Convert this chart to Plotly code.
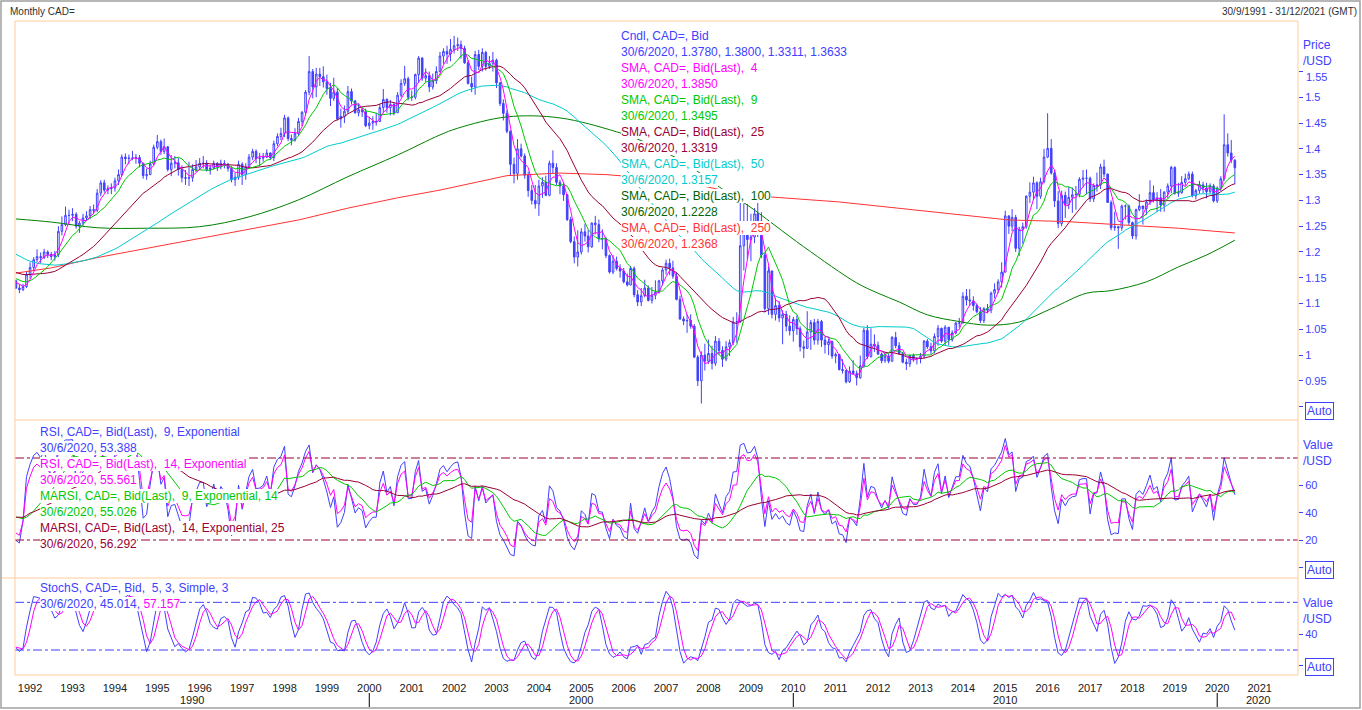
import numpy as np
import pandas as pd
import plotly.graph_objects as go
from plotly.subplots import make_subplots

# ---- data -------------------------------------------------------------
# monthly closes Aug 1987 - Aug 1991 (before the window, only warms up the indicators)
pre_close = [
    1.3200, 1.3130, 1.3170, 1.3080, 1.3000,
    1.2680, 1.2520, 1.2380, 1.2310, 1.2320, 1.2100, 1.2120, 1.2290, 1.2140, 1.2040, 1.2270, 1.1920,
    1.1880, 1.1920, 1.1900, 1.1880, 1.1990, 1.1980, 1.1750, 1.1790, 1.1800, 1.1740, 1.1640, 1.1590,
    1.1890, 1.1920, 1.1700, 1.1650, 1.1730, 1.1640, 1.1480, 1.1480, 1.1570, 1.1630, 1.1620, 1.1600,
    1.1580, 1.1540, 1.1580, 1.1520, 1.1480, 1.1420, 1.1480, 1.1440,
]
# highs / lows Jan - Aug 1991
pre_high = [1.1640, 1.1620, 1.1660, 1.1610, 1.1560, 1.1500, 1.1530, 1.1530]
pre_low = [1.1490, 1.1480, 1.1450, 1.1480, 1.1440, 1.1380, 1.1400, 1.1400]

# monthly bars Sep 1991 - Jun 2020 (open = previous close)
close = [
    1.1300, 1.1270, 1.1330, 1.1560,
    1.1700, 1.1850, 1.1910, 1.1890, 1.2000, 1.1950, 1.1910, 1.1950, 1.2400, 1.2530, 1.2710, 1.2710,
    1.2730, 1.2500, 1.2560, 1.2660, 1.2700, 1.2820, 1.2810, 1.3140, 1.3340, 1.3200, 1.3230, 1.3240,
    1.3380, 1.3500, 1.3840, 1.3810, 1.3820, 1.3820, 1.3830, 1.3720, 1.3480, 1.3500, 1.3710, 1.4030,
    1.4140, 1.3950, 1.4040, 1.3600, 1.3720, 1.3730, 1.3600, 1.3440, 1.3430, 1.3440, 1.3600, 1.3650,
    1.3720, 1.3720, 1.3600, 1.3630, 1.3720, 1.3650, 1.3720, 1.3700, 1.3620, 1.3400, 1.3450, 1.3700,
    1.3500, 1.3650, 1.3840, 1.3950, 1.3810, 1.3820, 1.3840, 1.3920, 1.3830, 1.4100, 1.4240, 1.4300,
    1.4600, 1.4200, 1.4170, 1.4300, 1.4530, 1.4710, 1.5100, 1.5500, 1.5200, 1.5450, 1.5400, 1.5300,
    1.5170, 1.4980, 1.5100, 1.4580, 1.4630, 1.4730, 1.5110, 1.4930, 1.4700, 1.4760, 1.4720, 1.4450,
    1.4500, 1.4530, 1.4530, 1.4800, 1.4960, 1.4800, 1.4860, 1.4700, 1.5040, 1.5270, 1.5360, 1.5000,
    1.5000, 1.5440, 1.5760, 1.5370, 1.5420, 1.5200, 1.5320, 1.5500, 1.5800, 1.5890, 1.5840, 1.5930,
    1.6000, 1.6020, 1.5950, 1.5670, 1.5270, 1.5200, 1.5830, 1.5600, 1.5870, 1.5600, 1.5660, 1.5720,
    1.5280, 1.4880, 1.4690, 1.4340, 1.3700, 1.3520, 1.4000, 1.3860, 1.3490, 1.3190, 1.3000, 1.2930,
    1.3280, 1.3350, 1.3100, 1.3720, 1.3640, 1.3350, 1.3280, 1.3110, 1.2630, 1.2200, 1.1900, 1.2000,
    1.2390, 1.2310, 1.2100, 1.2560, 1.2530, 1.2260, 1.2250, 1.1930, 1.1610, 1.1820, 1.1680, 1.1630,
    1.1420, 1.1360, 1.1680, 1.1170, 1.1030, 1.1150, 1.1300, 1.1060, 1.1160, 1.1220, 1.1440, 1.1650,
    1.1780, 1.1690, 1.1530, 1.1080, 1.0700, 1.0660, 1.0670, 1.0560, 0.9960, 0.9500, 1.0000, 0.9880,
    1.0030, 0.9840, 1.0270, 1.0090, 0.9920, 1.0160, 1.0240, 1.0640, 1.0650, 1.2120, 1.2380, 1.2240,
    1.2290, 1.2740, 1.2600, 1.1940, 1.0900, 1.1630, 1.0790, 1.0960, 1.0720, 1.0790, 1.0560, 1.0470,
    1.0690, 1.0510, 1.0160, 1.0130, 1.0450, 1.0630, 1.0290, 1.0650, 1.0290, 1.0200, 1.0260, 0.9980,
    1.0010, 0.9720, 0.9700, 0.9480, 0.9690, 0.9640, 0.9560, 0.9790, 1.0480, 0.9970, 1.0210, 1.0190,
    1.0020, 0.9890, 0.9980, 0.9880, 1.0340, 1.0180, 1.0030, 0.9860, 0.9830, 0.9990, 0.9930, 0.9930,
    0.9980, 1.0270, 1.0160, 1.0080, 1.0360, 1.0520, 1.0270, 1.0540, 1.0300, 1.0430, 1.0620, 1.0620,
    1.1140, 1.1070, 1.1050, 1.0960, 1.0840, 1.0670, 1.0900, 1.0870, 1.1200, 1.1270, 1.1420, 1.1610,
    1.2700, 1.2500, 1.2670, 1.2070, 1.2440, 1.2490, 1.3080, 1.3160, 1.3340, 1.3080, 1.3360, 1.3840,
    1.4010, 1.3530, 1.2990, 1.2550, 1.3100, 1.2920, 1.3060, 1.3110, 1.3120, 1.3410, 1.3430, 1.3430,
    1.3030, 1.3290, 1.3300, 1.3650, 1.3510, 1.2960, 1.2470, 1.2490, 1.2470, 1.2890, 1.2890, 1.2570,
    1.2310, 1.2820, 1.2890, 1.2840, 1.2970, 1.3150, 1.3010, 1.3050, 1.2910, 1.3160, 1.3280, 1.3640,
    1.3140, 1.3150, 1.3350, 1.3420, 1.3510, 1.3090, 1.3190, 1.3300, 1.3240, 1.3170, 1.3280, 1.2990,
    1.3240, 1.3420, 1.4080, 1.3920, 1.3780, 1.3633,
]
high = [
    1.1460, 1.1370, 1.1380, 1.1620,
    1.1800, 1.1900, 1.2050, 1.1990, 1.2060, 1.2030, 1.2000, 1.2020, 1.2500, 1.2690, 1.2880, 1.2820,
    1.2850, 1.2770, 1.2600, 1.2740, 1.2790, 1.2890, 1.2920, 1.3220, 1.3390, 1.3400, 1.3290, 1.3330,
    1.3440, 1.3600, 1.3890, 1.3910, 1.3890, 1.3960, 1.3900, 1.3880, 1.3730, 1.3620, 1.3770, 1.4080,
    1.4270, 1.4180, 1.4200, 1.4050, 1.3880, 1.3860, 1.3820, 1.3680, 1.3590, 1.3750, 1.3700, 1.3780,
    1.3820, 1.3860, 1.3780, 1.3690, 1.3770, 1.3740, 1.3790, 1.3780, 1.3730, 1.3660, 1.3530, 1.3770,
    1.3740, 1.3720, 1.3900, 1.4000, 1.3990, 1.3920, 1.3920, 1.3990, 1.3930, 1.4160, 1.4300, 1.4410,
    1.4660, 1.4630, 1.4280, 1.4400, 1.4600, 1.4730, 1.5140, 1.5800, 1.5550, 1.5570, 1.5570, 1.5600,
    1.5440, 1.5280, 1.5380, 1.5180, 1.4780, 1.4840, 1.5220, 1.5170, 1.4950, 1.4880, 1.4800, 1.4780,
    1.4620, 1.4630, 1.4700, 1.4870, 1.5160, 1.4980, 1.4950, 1.4900, 1.5100, 1.5350, 1.5610, 1.5400,
    1.5130, 1.5460, 1.5800, 1.5780, 1.5560, 1.5500, 1.5460, 1.5600, 1.5880, 1.5950, 1.6000, 1.6130,
    1.6190, 1.6160, 1.6100, 1.6000, 1.5720, 1.5400, 1.5900, 1.5920, 1.5950, 1.5900, 1.5800, 1.5880,
    1.5750, 1.5290, 1.4960, 1.4750, 1.4360, 1.3830, 1.4190, 1.4100, 1.3910, 1.3560, 1.3300, 1.3300,
    1.3400, 1.3450, 1.3480, 1.3770, 1.3970, 1.3720, 1.3400, 1.3350, 1.3120, 1.2680, 1.2300, 1.2420,
    1.2460, 1.2550, 1.2430, 1.2570, 1.2700, 1.2630, 1.2440, 1.2290, 1.1950, 1.1940, 1.1910, 1.1760,
    1.1690, 1.1580, 1.1730, 1.1720, 1.1260, 1.1300, 1.1460, 1.1350, 1.1320, 1.1450, 1.1460, 1.1690,
    1.1850, 1.1870, 1.1830, 1.1600, 1.1150, 1.0750, 1.0790, 1.0790, 1.0600, 1.0000, 1.0070, 1.0220,
    1.0300, 1.0180, 1.0370, 1.0330, 1.0170, 1.0270, 1.0300, 1.0740, 1.0830, 1.2990, 1.2940, 1.2930,
    1.2740, 1.2850, 1.3060, 1.2770, 1.1980, 1.1720, 1.1640, 1.1110, 1.1050, 1.0870, 1.0860, 1.0770,
    1.0740, 1.0770, 1.0560, 1.0280, 1.0850, 1.0680, 1.0700, 1.0700, 1.0680, 1.0350, 1.0320, 1.0280,
    1.0050, 1.0020, 0.9920, 0.9720, 0.9780, 0.9900, 0.9700, 0.9990, 1.0530, 1.0580, 1.0520, 1.0400,
    1.0260, 1.0050, 1.0050, 1.0030, 1.0370, 1.0450, 1.0250, 1.0060, 0.9930, 1.0010, 1.0030, 0.9960,
    1.0040, 1.0290, 1.0310, 1.0240, 1.0420, 1.0580, 1.0530, 1.0580, 1.0540, 1.0480, 1.0640, 1.0720,
    1.1220, 1.1280, 1.1280, 1.1140, 1.1000, 1.0930, 1.0930, 1.0990, 1.1230, 1.1390, 1.1470, 1.1800,
    1.2800, 1.2700, 1.2830, 1.2720, 1.2490, 1.2570, 1.3100, 1.3350, 1.3460, 1.3370, 1.3440, 1.4000,
    1.4690, 1.4190, 1.3580, 1.3180, 1.3190, 1.3170, 1.3260, 1.3250, 1.3280, 1.3450, 1.3590, 1.3600,
    1.3460, 1.3330, 1.3540, 1.3710, 1.3790, 1.3520, 1.3000, 1.2780, 1.2500, 1.2920, 1.2920, 1.2920,
    1.2590, 1.2840, 1.3120, 1.2900, 1.3020, 1.3390, 1.3290, 1.3160, 1.3220, 1.3180, 1.3330, 1.3670,
    1.3660, 1.3340, 1.3470, 1.3520, 1.3560, 1.3560, 1.3220, 1.3380, 1.3360, 1.3340, 1.3330, 1.3320,
    1.3270, 1.3470, 1.4670, 1.4300, 1.4170, 1.3800,
]
low = [
    1.1280, 1.1200, 1.1240, 1.1300,
    1.1480, 1.1650, 1.1800, 1.1780, 1.1860, 1.1880, 1.1840, 1.1830, 1.1900, 1.2320, 1.2500, 1.2550,
    1.2600, 1.2450, 1.2370, 1.2510, 1.2600, 1.2640, 1.2740, 1.2770, 1.3080, 1.3150, 1.3120, 1.3120,
    1.3170, 1.3300, 1.3470, 1.3700, 1.3700, 1.3780, 1.3710, 1.3640, 1.3420, 1.3400, 1.3490, 1.3680,
    1.3990, 1.3880, 1.3900, 1.3560, 1.3470, 1.3620, 1.3480, 1.3350, 1.3300, 1.3280, 1.3360, 1.3550,
    1.3590, 1.3620, 1.3560, 1.3500, 1.3600, 1.3570, 1.3600, 1.3620, 1.3560, 1.3350, 1.3280, 1.3400,
    1.3300, 1.3400, 1.3630, 1.3780, 1.3720, 1.3670, 1.3750, 1.3820, 1.3790, 1.3760, 1.4050, 1.4170,
    1.4230, 1.4150, 1.4070, 1.4140, 1.4250, 1.4440, 1.4650, 1.5040, 1.4980, 1.5000, 1.5220, 1.5190,
    1.5050, 1.4830, 1.4930, 1.4550, 1.4410, 1.4500, 1.4680, 1.4860, 1.4680, 1.4630, 1.4620, 1.4420,
    1.4380, 1.4370, 1.4450, 1.4520, 1.4700, 1.4700, 1.4650, 1.4650, 1.4700, 1.5000, 1.5220, 1.4940,
    1.4930, 1.4960, 1.5280, 1.5320, 1.5300, 1.5100, 1.5150, 1.5260, 1.5480, 1.5650, 1.5650, 1.5700,
    1.5850, 1.5900, 1.5750, 1.5650, 1.5250, 1.5100, 1.5050, 1.5530, 1.5500, 1.5520, 1.5550, 1.5500,
    1.5180, 1.4830, 1.4550, 1.4300, 1.3490, 1.3330, 1.3400, 1.3830, 1.3420, 1.3070, 1.2920, 1.2840,
    1.2700, 1.3050, 1.3080, 1.3080, 1.3520, 1.3300, 1.3120, 1.2990, 1.2600, 1.2170, 1.1780, 1.1720,
    1.1950, 1.2200, 1.1990, 1.2080, 1.2340, 1.2190, 1.2050, 1.1880, 1.1580, 1.1570, 1.1640, 1.1500,
    1.1390, 1.1330, 1.1350, 1.1120, 1.0950, 1.0950, 1.1120, 1.1040, 1.1000, 1.1080, 1.1190, 1.1350,
    1.1560, 1.1550, 1.1480, 1.1060, 1.0680, 1.0580, 1.0430, 1.0510, 0.9940, 0.9400, 0.9060, 0.9700,
    0.9830, 0.9720, 0.9790, 1.0000, 0.9770, 0.9880, 0.9980, 1.0190, 1.0240, 1.0620, 1.1640, 1.1850,
    1.1820, 1.2170, 1.2290, 1.1880, 1.0830, 1.0780, 1.0710, 1.0670, 1.0640, 1.0210, 1.0460, 1.0380,
    1.0260, 1.0390, 1.0070, 0.9940, 1.0120, 1.0100, 1.0200, 1.0200, 1.0160, 1.0030, 1.0000, 0.9930,
    0.9840, 0.9700, 0.9640, 0.9450, 0.9460, 0.9620, 0.9410, 0.9540, 0.9750, 0.9920, 0.9950, 1.0060,
    1.0000, 0.9840, 0.9850, 0.9840, 0.9880, 1.0130, 1.0000, 0.9840, 0.9710, 0.9770, 0.9870, 0.9820,
    0.9840, 0.9930, 1.0120, 1.0020, 1.0030, 1.0180, 1.0240, 1.0180, 1.0190, 1.0260, 1.0400, 1.0530,
    1.0620, 1.0960, 1.0950, 1.0860, 1.0810, 1.0620, 1.0620, 1.0810, 1.0810, 1.1100, 1.1200, 1.1310,
    1.1600, 1.2350, 1.2400, 1.2000, 1.1920, 1.2160, 1.2450, 1.2950, 1.3010, 1.2830, 1.3030, 1.3330,
    1.3820, 1.3500, 1.2870, 1.2460, 1.2500, 1.2660, 1.2830, 1.2760, 1.2820, 1.3060, 1.3270, 1.3120,
    1.2970, 1.2970, 1.3170, 1.3220, 1.3450, 1.2960, 1.2420, 1.2410, 1.2060, 1.2410, 1.2630, 1.2520,
    1.2250, 1.2240, 1.2790, 1.2530, 1.2720, 1.2910, 1.2960, 1.2780, 1.2780, 1.2780, 1.3040, 1.3140,
    1.3110, 1.3070, 1.3130, 1.3280, 1.3390, 1.3060, 1.3020, 1.3130, 1.3140, 1.3040, 1.3140, 1.2960,
    1.2950, 1.3180, 1.3380, 1.3850, 1.3720, 1.3311,
]

# long averages (their history reaches back before 1987)
sma100_dates = ["1991-09-01", "1992-07-01", "1993-08-01", "1994-10-01", "1996-01-01",
                "1997-03-01", "1998-05-01", "1999-07-01", "2000-09-01", "2001-09-01",
                "2002-02-01", "2003-04-01", "2004-07-01", "2005-11-01", "2006-06-01",
                "2007-06-01", "2008-06-01", "2008-12-01", "2010-04-01", "2011-07-01",
                "2012-01-01", "2012-07-01", "2013-03-01", "2013-12-01", "2014-08-01",
                "2015-05-01", "2016-02-01", "2016-12-01", "2017-07-01", "2018-05-01",
                "2019-02-01", "2019-10-01", "2020-06-01"]
sma100_vals = [1.264, 1.258, 1.247, 1.246, 1.249, 1.268, 1.301, 1.346, 1.388, 1.427,
               1.440, 1.462, 1.460, 1.433, 1.416, 1.374, 1.317, 1.291, 1.210, 1.140,
               1.120, 1.103, 1.078, 1.065, 1.058, 1.064, 1.090, 1.120, 1.125, 1.142,
               1.171, 1.194, 1.2228]
sma250_dates = ["1991-09-01", "1992-07-01", "1993-08-01", "1994-10-01", "1996-01-01",
                "1997-03-01", "1998-05-01", "1999-07-01", "2000-09-01", "2001-09-01",
                "2002-06-01", "2003-04-01", "2004-07-01", "2005-08-01", "2006-09-01",
                "2007-09-01", "2008-06-01", "2009-06-01", "2011-02-01", "2012-07-01",
                "2013-09-01", "2015-02-01", "2016-06-01", "2018-01-01", "2019-02-01",
                "2020-06-01"]
sma250_vals = [1.159, 1.169, 1.189, 1.207, 1.225, 1.243, 1.262, 1.285, 1.305, 1.320,
               1.333, 1.348, 1.353, 1.350, 1.343, 1.332, 1.318, 1.307, 1.297, 1.285,
               1.275, 1.262, 1.259, 1.252, 1.246, 1.2368]

years = list(range(1992, 2022))
decades = [1990, 2000, 2010, 2020]
price_ticks = [0.90, 0.95, 1.00, 1.05, 1.10, 1.15, 1.20, 1.25, 1.30, 1.35, 1.40, 1.45, 1.50, 1.55]

# ---- indicators --------------------------------------------------------
months = pd.date_range("1987-08-01", periods=len(pre_close) + len(close), freq="MS")
c = pd.Series(pre_close + close, index=months)
pad = [np.nan] * (len(pre_close) - len(pre_high))
h = pd.Series(pad + pre_high + high, index=months)
l = pd.Series(pad + pre_low + low, index=months)
o = c.shift(1)
k0 = len(pre_close)
x = months[k0:]


def rsi(s, n):
    # exponential RSI: gains and losses smoothed with an n-period EMA
    d = s.diff()
    up = d.clip(lower=0).ewm(span=n, adjust=False).mean()
    dn = (-d.clip(upper=0)).ewm(span=n, adjust=False).mean()
    return 100 - 100 / (1 + up / dn)


sma = {n: c.rolling(n).mean()[k0:] for n in (4, 9, 25, 50)}
rsi9 = rsi(c, 9)
rsi14 = rsi(c, 14)
marsi9 = rsi9.rolling(14).mean()[k0:]
marsi14 = rsi14.rolling(25).mean()[k0:]
rsi9, rsi14 = rsi9[k0:], rsi14[k0:]
fast_k = 100 * (c - l.rolling(5).min()) / (h.rolling(5).max() - l.rolling(5).min())
slow_k = fast_k.rolling(3).mean()
slow_d = slow_k.rolling(3).mean()
slow_k, slow_d = slow_k[k0:], slow_d[k0:]

# ---- figure ------------------------------------------------------------
BLUE, MAG, GRN, MAROON = "#4040FF", "#FF00FF", "#00C800", "#990033"
CYAN, DKGRN, RED, ORANGE = "#00CCCC", "#008000", "#FF3333", "#FFCC99"
FONT = "Liberation Sans, Arial, sans-serif"
W, H = 1362, 710
ML, MR, MT, MB = 15, 64, 21, 35
PW, PH = W - ML - MR, H - MT - MB


def px(xp):
    return (xp - ML) / PW


def py(yp):
    return (H - MB - yp) / PH


fig = make_subplots(rows=3, cols=1, shared_xaxes=True, vertical_spacing=0,
                    row_heights=[399, 158, 97])

fig.add_trace(go.Candlestick(
    x=x, open=o[k0:], high=h[k0:], low=l[k0:], close=c[k0:],
    increasing=dict(line=dict(color=BLUE, width=1), fillcolor="white"),
    decreasing=dict(line=dict(color=BLUE, width=1), fillcolor=BLUE),
    whiskerwidth=0, hoverinfo="skip"), row=1, col=1)

fig.add_trace(go.Scatter(x=pd.to_datetime(sma250_dates), y=sma250_vals, mode="lines",
                         line=dict(color=RED, width=1)), row=1, col=1)
fig.add_trace(go.Scatter(x=pd.to_datetime(sma100_dates), y=sma100_vals, mode="lines",
                         line=dict(color=DKGRN, width=1, shape="spline")), row=1, col=1)
for n, col in [(50, CYAN), (25, MAROON), (9, GRN), (4, MAG)]:
    fig.add_trace(go.Scatter(x=x, y=sma[n], mode="lines", line=dict(color=col, width=1)),
                  row=1, col=1)

for s, col in [(rsi9, BLUE), (rsi14, MAG), (marsi9, GRN), (marsi14, MAROON)]:
    fig.add_trace(go.Scatter(x=x, y=s, mode="lines", line=dict(color=col, width=1)),
                  row=2, col=1)
for s, col in [(slow_k, BLUE), (slow_d, MAG)]:
    fig.add_trace(go.Scatter(x=x, y=s, mode="lines", line=dict(color=col, width=1)),
                  row=3, col=1)

for yv in (20, 80):
    fig.add_hline(y=yv, line=dict(color=MAROON, width=1, dash="dashdot"), row=2, col=1)
    fig.add_hline(y=yv, line=dict(color=BLUE, width=1, dash="dashdot"), row=3, col=1)

# last-value diamonds in the axis gutter
tag_x = pd.Timestamp("2022-01-12")
tags = [
    (1, [sma[4].iloc[-1], c.iloc[-1], sma[9].iloc[-1], sma[25].iloc[-1], sma[50].iloc[-1],
         sma250_vals[-1], sma100_vals[-1]], [MAG, BLUE, GRN, MAROON, CYAN, RED, DKGRN]),
    (2, [rsi9.iloc[-1], marsi9.iloc[-1], rsi14.iloc[-1], marsi14.iloc[-1]],
     [BLUE, GRN, MAG, MAROON]),
    (3, [slow_k.iloc[-1], slow_d.iloc[-1]], [BLUE, MAG]),
]
for row, vals, cols in tags:
    fig.add_trace(go.Scatter(x=[tag_x] * len(vals), y=vals, mode="markers", cliponaxis=False,
                             marker=dict(symbol="diamond", size=8, color=cols)),
                  row=row, col=1)

x_range = [pd.Timestamp("1991-08-24"), pd.Timestamp("2021-11-27")]
fig.update_xaxes(range=x_range, showgrid=False, zeroline=False, showline=False, ticks="",
                 rangeslider_visible=False, fixedrange=True)
fig.update_xaxes(tickvals=[pd.Timestamp(f"{yr}-01-01") for yr in years],
                 ticktext=[str(yr) for yr in years], tickfont=dict(size=11, color="#202020"),
                 ticks="outside", ticklen=3, tickcolor="rgba(0,0,0,0)", row=3, col=1)

yax = dict(side="right", showgrid=False, zeroline=False, showline=False, ticks="outside",
           ticklen=4, tickcolor=BLUE, tickfont=dict(size=11, color=BLUE), fixedrange=True)
fig.update_yaxes(range=[0.874, 1.648], tickvals=price_ticks,
                 ticktext=["" if v in (0.90, 1.55) else f"{v:g}" for v in price_ticks],
                 row=1, col=1, **yax)
fig.update_yaxes(range=[-7.8, 107.8], tickvals=[0, 20, 40, 60], ticktext=["", "20", "40", "60"],
                 row=2, col=1, **yax)
fig.update_yaxes(range=[-11.4, 110.6], tickvals=[0, 40], ticktext=["", "40"],
                 row=3, col=1, **yax)

ann = []


def note(text, xp, yp, color, anchor="left", size=12, bg=None, border=None):
    ann.append(dict(text=text, x=px(xp), y=py(yp), xref="paper", yref="paper",
                    xanchor=anchor, yanchor="middle", showarrow=False,
                    font=dict(family=FONT, size=size, color=color),
                    bgcolor=bg, bordercolor=border, borderwidth=1 if border else 0,
                    borderpad=0 if border is None else 1))


note("Monthly CAD=", 10, 11, "#303030", size=10)
note("30/9/1991 - 31/12/2021 (GMT)", 1357, 11, "#303030", anchor="right", size=10)

price_legend = [
    ("Cndl, CAD=, Bid", BLUE),
    ("30/6/2020, 1.3780, 1.3800, 1.3311, 1.3633", BLUE),
    ("SMA, CAD=, Bid(Last),  4", MAG), ("30/6/2020, 1.3850", MAG),
    ("SMA, CAD=, Bid(Last),  9", GRN), ("30/6/2020, 1.3495", GRN),
    ("SMA, CAD=, Bid(Last),  25", MAROON), ("30/6/2020, 1.3319", MAROON),
    ("SMA, CAD=, Bid(Last),  50", CYAN), ("30/6/2020, 1.3157", CYAN),
    ("SMA, CAD=, Bid(Last),  100", "#006400"), ("30/6/2020, 1.2228", "#006400"),
    ("SMA, CAD=, Bid(Last),  250", RED), ("30/6/2020, 1.2368", RED),
]
for i, (t, col) in enumerate(price_legend):
    note(t, 621, 35.7 + 16 * i, col, bg="white")

rsi_legend = [
    ("RSI, CAD=, Bid(Last),  9, Exponential", BLUE), ("30/6/2020, 53.388", BLUE),
    ("RSI, CAD=, Bid(Last),  14, Exponential", MAG), ("30/6/2020, 55.561", MAG),
    ("MARSI, CAD=, Bid(Last),  9, Exponential, 14", GRN), ("30/6/2020, 55.026", GRN),
    ("MARSI, CAD=, Bid(Last),  14, Exponential, 25", MAROON), ("30/6/2020, 56.292", MAROON),
]
for i, (t, col) in enumerate(rsi_legend):
    note(t, 40, 431.7 + 16 * i, col, bg="white")

note("StochS, CAD=, Bid,  5, 3, Simple, 3", 40, 587.7, BLUE, bg="white")
note(f"30/6/2020, 45.014, <span style='color:{MAG}'>57.157</span>", 40, 603.7, BLUE, bg="white")

# right-hand axis captions
for yp, t in [(45, "Price"), (61, "/USD"), (445, "Value"), (461, "/USD"),
              (603, "Value"), (619, "/USD")]:
    note(t, 1303, yp, BLUE)
note("1.55", 1306, 77, BLUE, size=11)
for yp in (411, 570, 667):
    note("Auto", 1305, yp, BLUE, border=BLUE)

# decade captions under the year labels
x0, x1 = x_range
for d in decades:
    a = max(x0, pd.Timestamp(f"{d}-01-01"))
    b = min(x1, pd.Timestamp(f"{d + 10}-01-01"))
    ann.append(dict(text=str(d), x=a + (b - a) / 2, y=py(699.5), xref="x3", yref="paper",
                    xanchor="center", yanchor="middle", showarrow=False,
                    font=dict(family=FONT, size=11, color="#202020")))

shapes = []
for d in decades:
    t = pd.Timestamp(f"{d}-01-01")
    if x0 < t < x1:
        shapes.append(dict(type="line", xref="x3", yref="paper", x0=t, x1=t,
                           y0=py(693), y1=py(707), line=dict(color="black", width=1)))


def hline(xa, xb, yp, color=ORANGE):
    shapes.append(dict(type="line", xref="paper", yref="paper", x0=px(xa), x1=px(xb),
                       y0=py(yp), y1=py(yp), line=dict(color=color, width=1)))


def vline(xp, ya, yb, color=ORANGE):
    shapes.append(dict(type="line", xref="paper", yref="paper", x0=px(xp), x1=px(xp),
                       y0=py(ya), y1=py(yb), line=dict(color=color, width=1)))


hline(15, 1298, 21)
hline(15, 1298, 420)
hline(2, 1298, 578)
hline(15, 1298, 675)
vline(15, 21, 675)
vline(1298, 21, 675)
shapes.append(dict(type="rect", xref="paper", yref="paper", x0=px(1), x1=px(1360),
                   y0=py(1), y1=py(708), line=dict(color="#A0A0A0", width=1.5)))

fig.update_layout(
    width=W, height=H, margin=dict(l=ML, r=MR, t=MT, b=MB),
    paper_bgcolor="white", plot_bgcolor="white", showlegend=False,
    font=dict(family=FONT, size=11, color="#202020"),
    annotations=list(fig.layout.annotations) + ann, shapes=list(fig.layout.shapes) + shapes,
    hovermode=False,
)

fig.write_html("out.html", config={"displayModeBar": False},
               post_script="document.body.style.margin='0';")
